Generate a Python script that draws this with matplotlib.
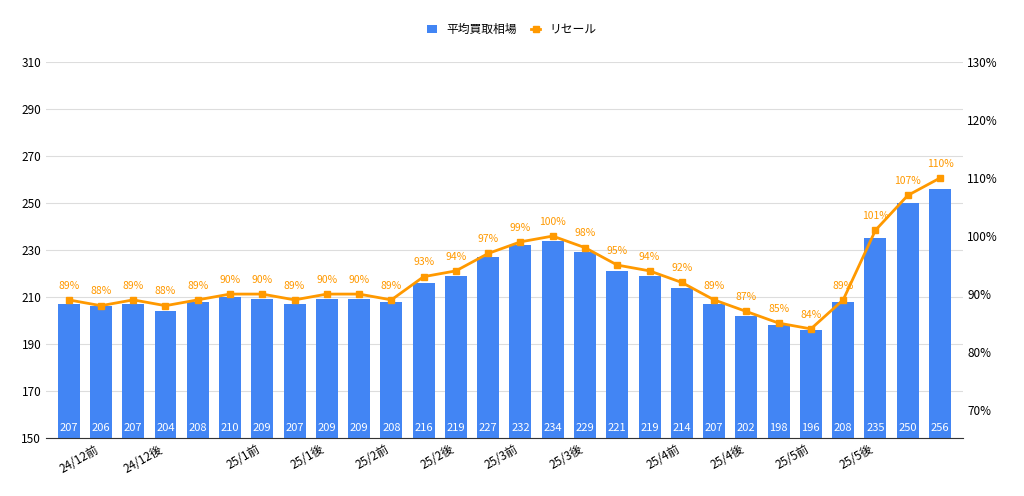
import matplotlib
matplotlib.use("Agg")
import matplotlib.pyplot as plt
import numpy as np

plt.rcParams["font.family"] = ["Noto Sans CJK JP", "DejaVu Sans"]

avg_price = [207, 206, 207, 204, 208, 210, 209, 207, 209, 209, 208, 216, 219, 227,
             232, 234, 229, 221, 219, 214, 207, 202, 198, 196, 208, 235, 250, 256]
resale = [89, 88, 89, 88, 89, 90, 90, 89, 90, 90, 89, 93, 94, 97,
          99, 100, 98, 95, 94, 92, 89, 87, 85, 84, 89, 101, 107, 110]
tick_idx = [1, 3, 6, 8, 10, 12, 14, 16, 19, 21, 23, 25]
tick_labels = ["24/12前", "24/12後", "25/1前", "25/1後", "25/2前", "25/2後",
               "25/3前", "25/3後", "25/4前", "25/4後", "25/5前", "25/5後"]

blue = "#4285f4"
orange = "#ff9900"
x = np.arange(len(avg_price))

fig, ax = plt.subplots(figsize=(10.24, 4.96), dpi=100)
fig.subplots_adjust(left=0.045, right=0.94, top=0.875, bottom=0.117)

bars = ax.bar(x, avg_price, width=0.68, color=blue, label="平均買取相場", zorder=2)
for xi, v in zip(x, avg_price):
    ax.text(xi, 152, str(v), ha="center", va="bottom", color="white", fontsize=8, zorder=3)
ax.set_ylim(150, 310)
ax.set_yticks(range(150, 311, 20))
ax.set_xlim(-0.7, len(x) - 0.3)
ax.grid(axis="y", color="#dddddd", linewidth=0.8, zorder=0)
ax.set_axisbelow(True)
ax.set_xticks(tick_idx)
ax.set_xticklabels(tick_labels, rotation=30, ha="right", fontsize=8.5)
ax.tick_params(length=0, labelsize=8.5)
for s in ax.spines.values():
    s.set_visible(False)
ax.spines["bottom"].set_visible(True)
ax.spines["bottom"].set_color("#333333")

ax2 = ax.twinx()
ax2.plot(x, resale, color=orange, marker="s", markersize=5, linewidth=2, label="リセール", zorder=4)
for xi, v in zip(x, resale):
    ax2.text(xi, v + 1.6, f"{v}%", ha="center", va="bottom", color=orange, fontsize=7.5)
ax2.set_ylim(65.2, 130)
ax2.set_yticks(range(70, 131, 10))
ax2.set_yticklabels([f"{t}%" for t in range(70, 131, 10)])
ax2.tick_params(length=0, labelsize=8.5)
for s in ax2.spines.values():
    s.set_visible(False)

h1, l1 = ax.get_legend_handles_labels()
h2, l2 = ax2.get_legend_handles_labels()
fig.legend(h1 + h2, l1 + l2, loc="upper center", bbox_to_anchor=(0.5, 0.975), ncol=2,
           frameon=False, fontsize=8.5, handlelength=0.8, columnspacing=1.2)

fig.savefig("out.png", dpi=100)
